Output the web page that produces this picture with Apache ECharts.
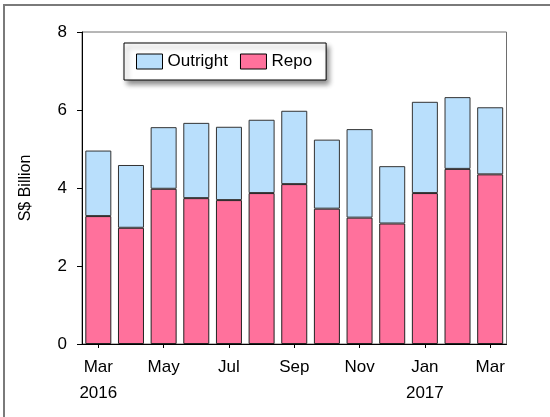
<!DOCTYPE html>
<html>
<head>
<meta charset="utf-8">
<script src="https://cdn.jsdelivr.net/npm/echarts@6/dist/echarts.min.js"></script>
<style>
  html, body { margin: 0; padding: 0; background: #fff; }
  #chart { width: 550px; height: 417px; }
</style>
</head>
<body>
<div id="chart"></div>
<script>
var months = ['Mar', 'Apr', 'May', 'Jun', 'Jul', 'Aug', 'Sep', 'Oct', 'Nov', 'Dec', 'Jan', 'Feb', 'Mar'];
var years = ['2016', '', '', '', '', '', '', '', '', '', '2017', '', ''];
var repo = [3.28, 2.98, 3.98, 3.74, 3.69, 3.87, 4.10, 3.47, 3.24, 3.09, 3.87, 4.49, 4.35];
var outright = [1.68, 1.61, 1.58, 1.93, 1.88, 1.88, 1.88, 1.77, 2.27, 1.47, 2.34, 1.84, 1.72];
var yTicks = [0, 2, 4, 6, 8];

var FONT = 'Liberation Sans, Arial, sans-serif';
var categories = months.map(function (m, i) { return m + '-' + i; });

var chart = echarts.init(document.getElementById('chart'));
var option = {
    animation: false,
    backgroundColor: '#fff',
    textStyle: { fontFamily: FONT },
    graphic: [{
        type: 'rect',
        shape: { x: 4, y: 5, width: 700, height: 600 },
        style: { fill: 'none', stroke: '#7a7a7a', lineWidth: 2 },
        silent: true
    }],
    grid: {
        left: 82, right: 43.5, top: 32, bottom: 73,
        show: true,
        borderColor: '#6e6e6e',
        borderWidth: 1,
        backgroundColor: 'transparent'
    },
    legend: {
        data: ['Outright', 'Repo'],
        icon: 'rect',
        left: 124, top: 43,
        orient: 'horizontal',
        itemWidth: 26, itemHeight: 15,
        itemGap: 12,
        padding: [10, 14, 10, 12],
        backgroundColor: '#fff',
        borderColor: '#000',
        borderWidth: 1,
        shadowColor: 'rgba(0,0,0,0.45)',
        shadowBlur: 5,
        shadowOffsetX: 3,
        shadowOffsetY: 4,
        textStyle: { fontFamily: FONT, fontSize: 17, color: '#000' },
        itemStyle: { borderColor: '#000', borderWidth: 1 }
    },
    xAxis: [{
        type: 'category',
        data: categories,
        axisLine: { lineStyle: { color: '#000', width: 1 } },
        axisTick: { show: true, alignWithLabel: true, length: 4, lineStyle: { color: '#000' } },
        axisLabel: {
            interval: 1,
            margin: 10,
            fontFamily: FONT,
            fontSize: 17,
            lineHeight: 26,
            color: '#000',
            formatter: function (v, i) {
                return months[i] + (years[i] ? '\n' + years[i] : '');
            }
        },
        splitLine: { show: false }
    }, {
        type: 'category',
        data: categories,
        position: 'bottom',
        axisLine: { show: false },
        axisTick: { show: true, inside: true, alignWithLabel: true, length: 3, lineStyle: { color: '#000' } },
        axisLabel: { show: false },
        splitLine: { show: false }
    }],
    yAxis: {
        type: 'value',
        min: yTicks[0],
        max: yTicks[yTicks.length - 1],
        interval: 2,
        name: 'S$ Billion',
        nameLocation: 'middle',
        nameRotate: 90,
        nameGap: 48,
        nameTextStyle: { fontFamily: FONT, fontSize: 16, color: '#000' },
        axisLine: { show: true, lineStyle: { color: '#000', width: 1 } },
        axisTick: { show: true, length: 5, lineStyle: { color: '#000' } },
        axisLabel: { margin: 15, fontFamily: FONT, fontSize: 17, color: '#000' },
        splitLine: { show: false }
    },
    series: [{
        name: 'Repo',
        type: 'bar',
        stack: 'total',
        barWidth: 26,
        data: repo,
        itemStyle: { color: '#FF719C', borderColor: '#222', borderWidth: 1 }
    }, {
        name: 'Outright',
        type: 'bar',
        stack: 'total',
        barWidth: 26,
        data: outright,
        itemStyle: { color: '#B9DFFC', borderColor: '#333', borderWidth: 1 }
    }]
};
chart.setOption(option);
</script>
</body>
</html>
